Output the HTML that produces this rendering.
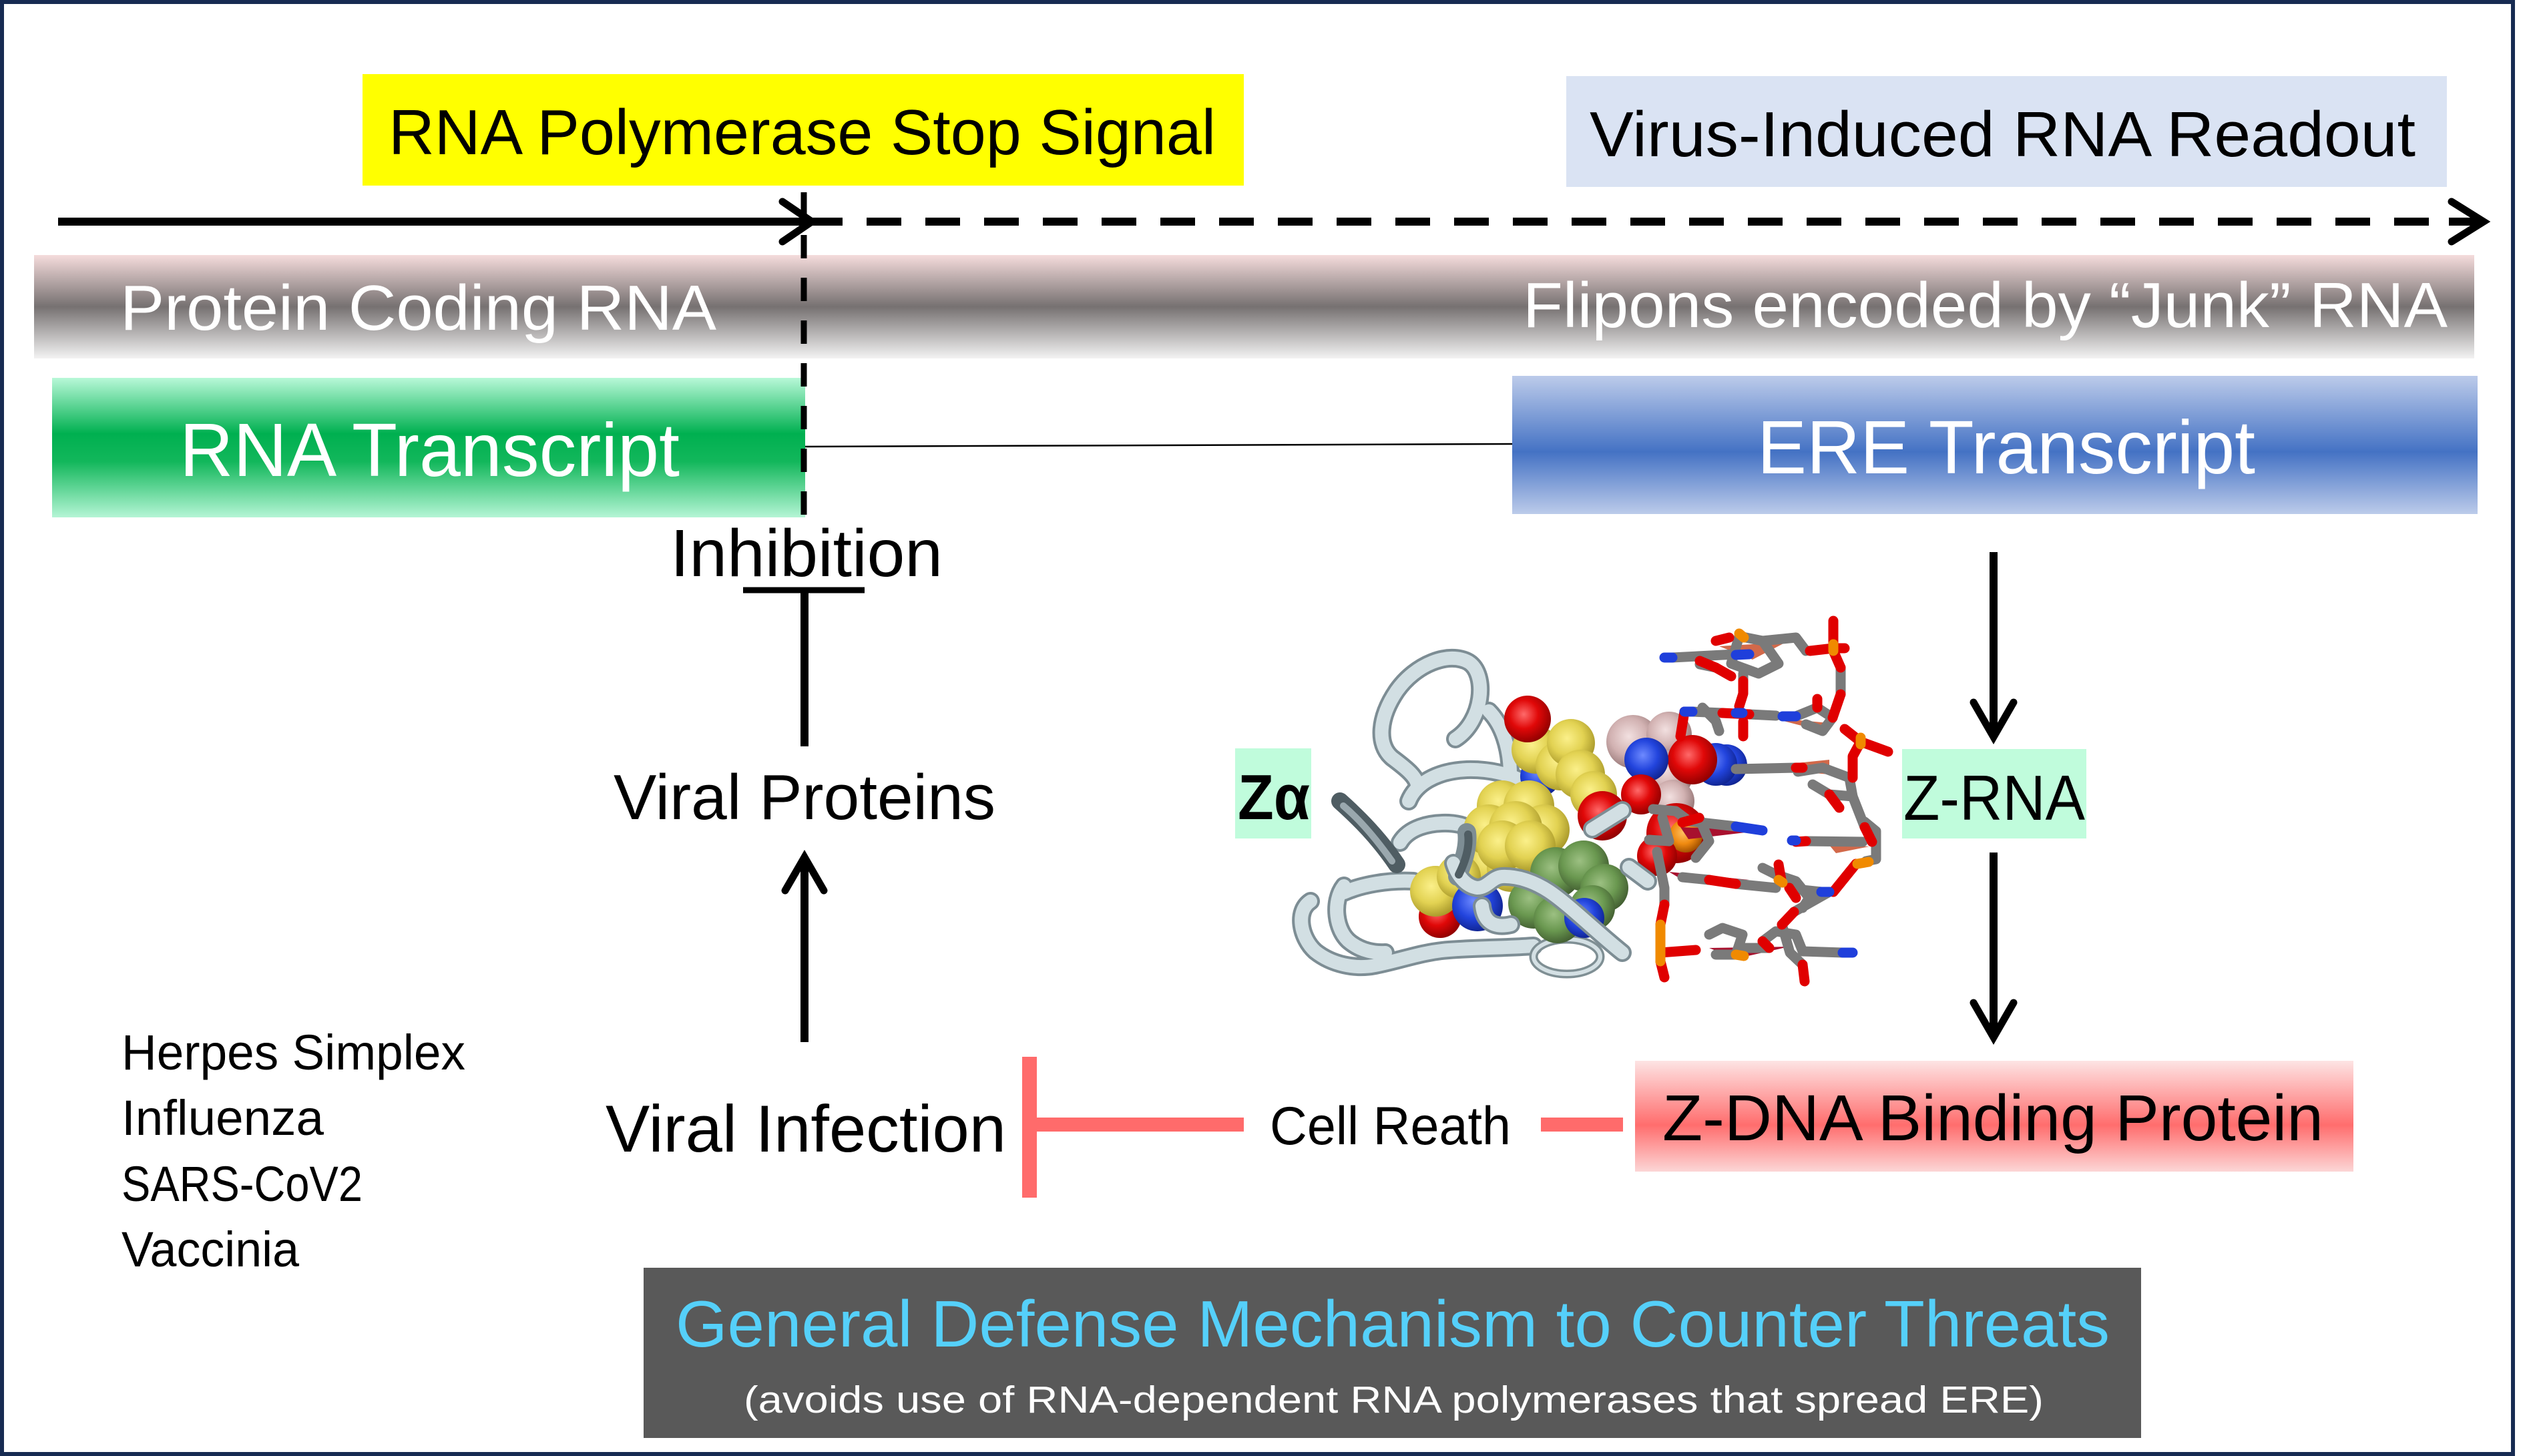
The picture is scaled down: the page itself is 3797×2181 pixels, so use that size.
<!DOCTYPE html>
<html><head><meta charset="utf-8"><style>
html,body{margin:0;padding:0;background:#fff;}
svg{display:block;}
text{font-family:"Liberation Sans",Arial,sans-serif;}
</style></head><body>
<svg width="3797" height="2181" viewBox="0 0 3797 2181" xmlns="http://www.w3.org/2000/svg">
<defs>
<linearGradient id="gBand" x1="0" y1="0" x2="0" y2="1">
<stop offset="0" stop-color="#f5dcdc"/><stop offset="0.5" stop-color="#767171"/><stop offset="1" stop-color="#f3f3f3"/>
</linearGradient>
<linearGradient id="gGreen" x1="0" y1="0" x2="0" y2="1">
<stop offset="0" stop-color="#b8f8d8"/><stop offset="0.4" stop-color="#00b050"/><stop offset="0.6" stop-color="#12b75b"/><stop offset="1" stop-color="#b5f5d5"/>
</linearGradient>
<linearGradient id="gBlue" x1="0" y1="0" x2="0" y2="1">
<stop offset="0" stop-color="#bccbea"/><stop offset="0.55" stop-color="#4472c4"/><stop offset="1" stop-color="#bccbea"/>
</linearGradient>
<linearGradient id="gRed" x1="0" y1="0" x2="0" y2="1">
<stop offset="0" stop-color="#fde4e4"/><stop offset="0.58" stop-color="#ff6d6d"/><stop offset="1" stop-color="#fcd6d6"/>
</linearGradient>
<radialGradient id="sR" cx="0.42" cy="0.4" r="0.62"><stop offset="0" stop-color="#ff6a6a"/><stop offset="0.5" stop-color="#e00808"/><stop offset="1" stop-color="#900000"/></radialGradient>
<radialGradient id="sY" cx="0.42" cy="0.4" r="0.62"><stop offset="0" stop-color="#fbf08a"/><stop offset="0.55" stop-color="#e2d252"/><stop offset="1" stop-color="#a8982a"/></radialGradient>
<radialGradient id="sB" cx="0.42" cy="0.4" r="0.62"><stop offset="0" stop-color="#6e8aff"/><stop offset="0.55" stop-color="#2244dd"/><stop offset="1" stop-color="#102490"/></radialGradient>
<radialGradient id="sG" cx="0.42" cy="0.4" r="0.62"><stop offset="0" stop-color="#9cc082"/><stop offset="0.55" stop-color="#6a9850"/><stop offset="1" stop-color="#435f32"/></radialGradient>
<radialGradient id="sP" cx="0.42" cy="0.4" r="0.62"><stop offset="0" stop-color="#f2e0e0"/><stop offset="0.55" stop-color="#d2b2b2"/><stop offset="1" stop-color="#957676"/></radialGradient>
<radialGradient id="sO" cx="0.42" cy="0.4" r="0.62"><stop offset="0" stop-color="#ffbf60"/><stop offset="0.55" stop-color="#f08a10"/><stop offset="1" stop-color="#a05000"/></radialGradient>
</defs>

<!-- frame -->
<rect x="3" y="3" width="3761" height="2175" fill="#fff" stroke="#172b52" stroke-width="6"/>

<!-- top labels -->
<rect x="543" y="111" width="1320" height="167" fill="#ffff00"/>
<text x="582" y="231" font-size="96" fill="#000" textLength="1239" lengthAdjust="spacingAndGlyphs">RNA Polymerase Stop Signal</text>
<rect x="2346" y="114" width="1319" height="166" fill="#dae3f3"/>
<text x="2381" y="234" font-size="96" fill="#000" textLength="1237" lengthAdjust="spacingAndGlyphs">Virus-Induced RNA Readout</text>

<!-- horizontal arrows -->
<line x1="87" y1="332" x2="1215" y2="332" stroke="#000" stroke-width="12"/>
<polyline points="1172,302 1216,332 1172,362" fill="none" stroke="#000" stroke-width="11" stroke-linecap="round" stroke-linejoin="miter" stroke-miterlimit="10"/>
<line x1="1210" y1="332" x2="3650" y2="332" stroke="#000" stroke-width="12" stroke-dasharray="52 36"/>
<line x1="3668" y1="332" x2="3718" y2="332" stroke="#000" stroke-width="12"/>
<polyline points="3672,302 3720,332 3672,362" fill="none" stroke="#000" stroke-width="11" stroke-linecap="round" stroke-linejoin="miter" stroke-miterlimit="10"/>

<!-- band -->
<rect x="51" y="382" width="3655" height="155" fill="url(#gBand)"/>
<text x="180" y="494" font-size="96" fill="#fff" textLength="893" lengthAdjust="spacingAndGlyphs">Protein Coding  RNA</text>
<text x="2281" y="490" font-size="96" fill="#fff" textLength="1385" lengthAdjust="spacingAndGlyphs">Flipons encoded by “Junk” RNA</text>

<!-- transcripts -->
<rect x="78" y="566" width="1128" height="209" fill="url(#gGreen)"/>
<text x="269" y="713" font-size="113" fill="#fff" textLength="749" lengthAdjust="spacingAndGlyphs">RNA Transcript</text>
<rect x="2265" y="563" width="1446" height="207" fill="url(#gBlue)"/>
<text x="2632" y="709" font-size="113" fill="#fff" textLength="746" lengthAdjust="spacingAndGlyphs">ERE  Transcript</text>
<line x1="1206" y1="669" x2="2265" y2="665" stroke="#000" stroke-width="2.5"/>

<!-- vertical dashed line -->
<line x1="1204" y1="288" x2="1204" y2="775" stroke="#000" stroke-width="9" stroke-dasharray="35 29"/>

<!-- inhibition -->
<text x="1004" y="863" font-size="100" fill="#000" textLength="408" lengthAdjust="spacingAndGlyphs">Inhibition</text>
<line x1="1113" y1="884" x2="1295" y2="884" stroke="#000" stroke-width="9"/>
<line x1="1205" y1="888" x2="1205" y2="1118" stroke="#000" stroke-width="12"/>
<text x="919" y="1227" font-size="96" fill="#000" textLength="572" lengthAdjust="spacingAndGlyphs">Viral Proteins</text>
<line x1="1205" y1="1561" x2="1205" y2="1290" stroke="#000" stroke-width="12"/>
<polyline points="1176,1334 1205,1284 1234,1334" fill="none" stroke="#000" stroke-width="11" stroke-linecap="round" stroke-linejoin="miter" stroke-miterlimit="10"/>

<!-- virus list -->
<text x="182" y="1602" font-size="74" fill="#000" textLength="515" lengthAdjust="spacingAndGlyphs">Herpes Simplex</text>
<text x="182" y="1700" font-size="74" fill="#000" textLength="303" lengthAdjust="spacingAndGlyphs">Influenza</text>
<text x="182" y="1799" font-size="74" fill="#000" textLength="361" lengthAdjust="spacingAndGlyphs">SARS-CoV2</text>
<text x="182" y="1897" font-size="74" fill="#000" textLength="266" lengthAdjust="spacingAndGlyphs">Vaccinia</text>

<text x="907" y="1725" font-size="99" fill="#000" textLength="600" lengthAdjust="spacingAndGlyphs">Viral Infection</text>

<!-- red inhibition -->
<rect x="1531" y="1583" width="22" height="211" fill="#ff6b6b"/>
<rect x="1553" y="1674" width="310" height="21" fill="#ff6b6b"/>
<text x="1902" y="1714" font-size="81" fill="#000" textLength="361" lengthAdjust="spacingAndGlyphs">Cell Reath</text>
<rect x="2308" y="1674" width="123" height="21" fill="#ff6b6b"/>
<rect x="2449" y="1589" width="1076" height="166" fill="url(#gRed)"/>
<text x="2490" y="1708" font-size="97" fill="#000" textLength="990" lengthAdjust="spacingAndGlyphs">Z-DNA Binding Protein</text>

<!-- right arrows -->
<line x1="2986" y1="827" x2="2986" y2="1100" stroke="#000" stroke-width="12"/>
<polyline points="2956,1052 2986,1104 3016,1052" fill="none" stroke="#000" stroke-width="11" stroke-linecap="round" stroke-linejoin="miter" stroke-miterlimit="10"/>
<rect x="2849" y="1122" width="276" height="134" fill="#c0fcdc"/>
<text x="2851" y="1228" font-size="96" fill="#000" textLength="272" lengthAdjust="spacingAndGlyphs">Z-RNA</text>
<line x1="2986" y1="1277" x2="2986" y2="1550" stroke="#000" stroke-width="12"/>
<polyline points="2956,1502 2986,1554 3016,1502" fill="none" stroke="#000" stroke-width="11" stroke-linecap="round" stroke-linejoin="miter" stroke-miterlimit="10"/>

<!-- Z alpha -->
<rect x="1850" y="1121" width="114" height="135" fill="#c0fcdc"/>
<text x="1854" y="1227" font-size="96" font-weight="bold" fill="#000" textLength="108" lengthAdjust="spacingAndGlyphs">Zα</text>

<!-- molecule: back ribbons -->
<g fill="none" stroke-linecap="round" stroke-linejoin="round">
<g stroke="#7d8d94" stroke-width="28">
<path d="M2180,1107 C2222,1080 2228,1010 2200,992 C2170,975 2120,995 2092,1035 C2065,1075 2062,1115 2085,1135 C2105,1150 2125,1165 2123,1180"/>
<path d="M2230,1065 C2250,1085 2262,1120 2262,1160"/>
<path d="M2110,1200 C2120,1175 2150,1155 2197,1153 C2230,1152 2262,1160 2280,1170"/>
<path d="M2097,1262 C2110,1240 2140,1232 2170,1233 C2190,1234 2200,1240 2205,1245"/>
<path d="M2013,1337 C2040,1325 2080,1318 2117,1320"/>
<path d="M2013,1327 C1995,1350 2000,1395 2023,1412 C2040,1425 2060,1428 2075,1427"/>
<path d="M1963,1350 C1940,1365 1948,1405 1970,1425 C1995,1445 2030,1452 2060,1446 C2100,1438 2130,1426 2170,1423 C2210,1420 2250,1420 2297,1417"/>
</g>
<g stroke="#d2dfe3" stroke-width="20">
<path d="M2180,1107 C2222,1080 2228,1010 2200,992 C2170,975 2120,995 2092,1035 C2065,1075 2062,1115 2085,1135 C2105,1150 2125,1165 2123,1180"/>
<path d="M2230,1065 C2250,1085 2262,1120 2262,1160"/>
<path d="M2110,1200 C2120,1175 2150,1155 2197,1153 C2230,1152 2262,1160 2280,1170"/>
<path d="M2097,1262 C2110,1240 2140,1232 2170,1233 C2190,1234 2200,1240 2205,1245"/>
<path d="M2013,1337 C2040,1325 2080,1318 2117,1320"/>
<path d="M2013,1327 C1995,1350 2000,1395 2023,1412 C2040,1425 2060,1428 2075,1427"/>
<path d="M1963,1350 C1940,1365 1948,1405 1970,1425 C1995,1445 2030,1452 2060,1446 C2100,1438 2130,1426 2170,1423 C2210,1420 2250,1420 2297,1417"/>
</g>
<path d="M2007,1200 C2035,1225 2065,1255 2092,1295" stroke="#4f5d63" stroke-width="26"/>
<path d="M2012,1207 C2037,1228 2060,1255 2085,1290" stroke="#9aa8ae" stroke-width="10"/>
<ellipse cx="2347" cy="1433" rx="50" ry="26" stroke="#7f8f94" stroke-width="13"/>
<ellipse cx="2347" cy="1433" rx="50" ry="26" stroke="#d4e0e4" stroke-width="6"/>
</g>

<!-- spheres: pink/blue/red cluster -->
<g>
<circle cx="2446" cy="1111" r="40" fill="url(#sP)"/>
<circle cx="2500" cy="1100" r="34" fill="url(#sP)"/>
<circle cx="2500" cy="1160" r="36" fill="url(#sP)"/>
<circle cx="2506" cy="1200" r="32" fill="url(#sP)"/>
<circle cx="2586" cy="1146" r="31" fill="url(#sB)"/>
<circle cx="2570" cy="1145" r="32" fill="url(#sB)"/>
<circle cx="2535" cy="1138" r="37" fill="url(#sR)"/>
<circle cx="2466" cy="1138" r="33" fill="url(#sB)"/>
<circle cx="2458" cy="1190" r="30" fill="url(#sR)"/>
<circle cx="2511" cy="1248" r="45" fill="url(#sR)"/>
<circle cx="2525" cy="1252" r="25" fill="url(#sO)"/>
<circle cx="2482" cy="1282" r="30" fill="url(#sR)"/>

<!-- yellow chain -->
<circle cx="2307" cy="1163" r="30" fill="url(#sB)"/>
<circle cx="2300" cy="1123" r="36" fill="url(#sY)"/>
<circle cx="2337" cy="1147" r="37" fill="url(#sY)"/>
<circle cx="2353" cy="1113" r="36" fill="url(#sY)"/>
<circle cx="2367" cy="1160" r="37" fill="url(#sY)"/>
<circle cx="2387" cy="1190" r="35" fill="url(#sY)"/>
<circle cx="2288" cy="1077" r="35" fill="url(#sR)"/>
<circle cx="2400" cy="1222" r="37" fill="url(#sR)"/>

<!-- big yellow cluster -->
<circle cx="2230" cy="1293" r="36" fill="url(#sY)"/>
<circle cx="2263" cy="1300" r="36" fill="url(#sY)"/>
<circle cx="2250" cy="1207" r="38" fill="url(#sY)"/>
<circle cx="2290" cy="1207" r="38" fill="url(#sY)"/>
<circle cx="2230" cy="1243" r="38" fill="url(#sY)"/>
<circle cx="2313" cy="1243" r="38" fill="url(#sY)"/>
<circle cx="2270" cy="1240" r="40" fill="url(#sY)"/>
<circle cx="2250" cy="1267" r="38" fill="url(#sY)"/>
<circle cx="2292" cy="1267" r="38" fill="url(#sY)"/>

<!-- lower left -->
<circle cx="2157" cy="1373" r="32" fill="url(#sR)"/>
<circle cx="2150" cy="1335" r="38" fill="url(#sY)"/>
<circle cx="2185" cy="1313" r="33" fill="url(#sY)"/>
<circle cx="2213" cy="1357" r="38" fill="url(#sB)"/>

<!-- green cluster -->
<circle cx="2330" cy="1307" r="38" fill="url(#sG)"/>
<circle cx="2372" cy="1297" r="38" fill="url(#sG)"/>
<circle cx="2403" cy="1330" r="36" fill="url(#sG)"/>
<circle cx="2297" cy="1353" r="38" fill="url(#sG)"/>
<circle cx="2333" cy="1377" r="36" fill="url(#sG)"/>
<circle cx="2385" cy="1360" r="34" fill="url(#sG)"/>
<circle cx="2373" cy="1375" r="30" fill="url(#sB)"/>
</g>

<!-- front ribbons -->
<g fill="none" stroke-linecap="round" stroke-linejoin="round">
<g stroke="#7d8d94" stroke-width="28">
<path d="M2177,1293 C2182,1310 2195,1328 2213,1330 C2228,1330 2235,1314 2250,1313 C2275,1312 2300,1322 2320,1335 C2350,1355 2390,1395 2430,1427"/>
<path d="M2220,1357 C2222,1375 2232,1392 2263,1385"/>
<path d="M2197,1247 C2200,1270 2190,1295 2183,1313"/>
<path d="M2385,1242 L2430,1214"/>
<path d="M2440,1299 L2468,1320"/>
</g>
<g stroke="#d2dfe3" stroke-width="20">
<path d="M2177,1293 C2182,1310 2195,1328 2213,1330 C2228,1330 2235,1314 2250,1313 C2275,1312 2300,1322 2320,1335 C2350,1355 2390,1395 2430,1427"/>
<path d="M2220,1357 C2222,1375 2232,1392 2263,1385"/>
<path d="M2385,1242 L2430,1214"/>
<path d="M2440,1299 L2468,1320"/>
</g>
<path d="M2199,1250 C2202,1272 2192,1296 2185,1310" stroke="#4f5d63" stroke-width="12"/>
</g>

<!-- RNA sticks -->
<g stroke-linecap="round" stroke-linejoin="round">
<polygon points="2575,968 2675,962 2625,988" fill="#d2694a"/>
<polygon points="2652,1075 2740,1083 2710,1090" fill="#d2694a"/>
<polygon points="2623,1150 2740,1138 2740,1160" fill="#d2694a"/>
<polygon points="2517,1239 2640,1244 2529,1257" fill="#a8102e"/>
<polygon points="2740,1266 2800,1268 2750,1278" fill="#d2694a"/>
<polygon points="2500,1306 2620,1318 2520,1318" fill="#a8102e"/>
<polygon points="2560,1420 2680,1418 2600,1436" fill="#a8102e"/>
<g fill="none" stroke="#7a7a7a" stroke-width="15">
<!-- top nucleotide -->
<polyline points="2605,953 2640,960 2664,994 2634,1009 2593,994 2605,953"/>
<polyline points="2505,985 2600,980"/>
<polyline points="2640,960 2690,955 2705,975"/>
<polyline points="2611,1009 2611,1020"/>
<polyline points="2546,995 2570,1000"/>
<!-- second rung -->
<polyline points="2535,1066 2580,1068"/>
<polyline points="2620,1070 2660,1072"/>
<polyline points="2690,1073 2722,1060 2745,1075 2730,1095 2705,1085"/>
<polyline points="2757,1000 2757,1040"/>
<polyline points="2550,1060 2570,1080 2575,1095"/>
<!-- third -->
<polyline points="2600,1152 2690,1150"/>
<polyline points="2693,1156 2730,1150 2770,1165 2775,1193 2740,1190 2715,1175"/>
<polyline points="2775,1193 2793,1239"/>
<!-- fourth -->
<polyline points="2476,1212 2510,1215 2530,1230 2600,1238"/>
<polyline points="2490,1225 2500,1260 2470,1258"/>
<polyline points="2545,1225 2560,1260 2540,1285"/>
<!-- fifth -->
<polyline points="2705,1260 2790,1261"/>
<polyline points="2793,1231 2810,1245 2810,1287 2795,1290"/>
<!-- sixth -->
<polyline points="2482,1276 2493,1330 2493,1355"/>
<polyline points="2520,1314 2560,1318"/>
<polyline points="2600,1324 2660,1330"/>
<polyline points="2690,1332 2728,1336"/>
<polyline points="2640,1300 2660,1310 2690,1320 2710,1345 2700,1360"/>
<!-- right strand lower -->
<polyline points="2740,1336 2687,1366"/>
<polyline points="2669,1385 2681,1427 2700,1445"/>
<!-- seventh -->
<polyline points="2560,1400 2580,1390 2610,1400 2600,1430 2570,1430"/>
<polyline points="2640,1410 2660,1395 2690,1400 2700,1425"/>
<polyline points="2610,1420 2650,1420"/>
<polyline points="2700,1425 2760,1427"/>
</g>
<g fill="none" stroke="#e00000" stroke-width="15">
<polyline points="2746,930 2746,965"/>
<polyline points="2711,975 2746,971 2763,971"/>
<polyline points="2746,975 2757,1000"/>
<polyline points="2757,1040 2745,1075"/>
<polyline points="2722,1047 2722,1060"/>
<polyline points="2763,1092 2787,1111 2828,1126"/>
<polyline points="2787,1111 2775,1133 2775,1165"/>
<polyline points="2570,960 2590,955"/>
<polyline points="2546,990 2570,1000 2593,1013"/>
<polyline points="2611,1020 2611,1039 2605,1058"/>
<polyline points="2580,1068 2620,1070"/>
<polyline points="2611,1081 2611,1103"/>
<polyline points="2523,1066 2517,1103"/>
<polyline points="2690,1150 2700,1150"/>
<polyline points="2740,1190 2755,1210"/>
<polyline points="2793,1239 2804,1261"/>
<polyline points="2780,1294 2746,1336"/>
<polyline points="2687,1366 2669,1385"/>
<polyline points="2493,1355 2487,1385"/>
<polyline points="2487,1440 2493,1464"/>
<polyline points="2487,1427 2540,1423"/>
<polyline points="2560,1318 2600,1324"/>
<polyline points="2664,1295 2668,1318"/>
<polyline points="2680,1330 2690,1345"/>
<polyline points="2520,1232 2545,1225"/>
<polyline points="2650,1420 2640,1410"/>
<polyline points="2700,1445 2703,1470"/>
<polyline points="2690,1261 2705,1260"/>
</g>
<g fill="none" stroke="#f08a00" stroke-width="15">
<polyline points="2746,965 2746,975"/>
<polyline points="2605,949 2612,955"/>
<polyline points="2787,1105 2787,1115"/>
<polyline points="2799,1291 2782,1294"/>
<polyline points="2487,1385 2487,1440"/>
<polyline points="2664,1318 2670,1322"/>
<polyline points="2600,1430 2612,1432"/>
</g>
<g fill="none" stroke="#1f3fdb" stroke-width="15">
<polyline points="2493,985 2505,985"/>
<polyline points="2523,1066 2535,1066"/>
<polyline points="2600,1068 2610,1068"/>
<polyline points="2670,1073 2690,1073"/>
<polyline points="2600,1238 2640,1244"/>
<polyline points="2684,1259 2690,1259"/>
<polyline points="2728,1336 2740,1336"/>
<polyline points="2760,1427 2775,1427"/>
<polyline points="2600,981 2620,980"/>
</g>
</g>

<!-- bottom box -->
<rect x="964" y="1899" width="2243" height="255" fill="#595959"/>
<text x="1012" y="2017" font-size="98" fill="#55d0fa" textLength="2148" lengthAdjust="spacingAndGlyphs">General Defense Mechanism to Counter Threats</text>
<text x="1114" y="2116" font-size="57" fill="#fff" textLength="1947" lengthAdjust="spacingAndGlyphs">(avoids use of RNA-dependent RNA polymerases that spread ERE)</text>
</svg>
</body></html>
